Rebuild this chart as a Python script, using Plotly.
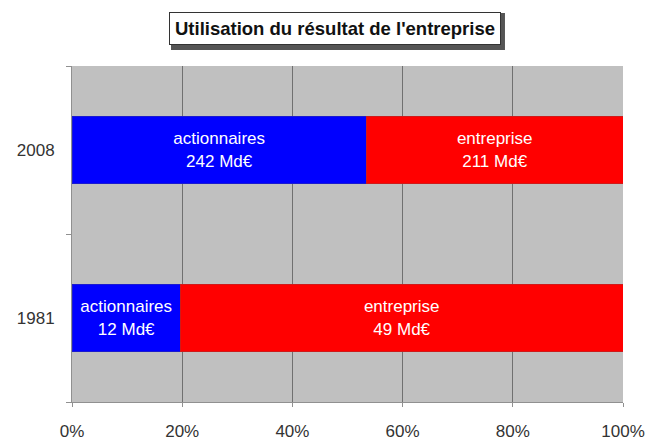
import plotly.graph_objects as go

years = ["1981", "2008"]
actionnaires = [12, 242]
entreprise = [49, 211]
x_ticks = [0, 20, 40, 60, 80, 100]
title_text = "Utilisation du résultat de l'entreprise"

font_family = "Liberation Sans, Arial, sans-serif"

fig = go.Figure()
fig.add_trace(go.Bar(
    y=years, x=actionnaires, orientation="h", name="actionnaires",
    marker=dict(color="#0000ff", line=dict(color="#1a1ad0", width=1)),
    text=[f"actionnaires<br>{v} Md€" for v in actionnaires],
    textposition="inside", insidetextanchor="middle", constraintext="none",
    textfont=dict(color="white", size=17, family=font_family),
    hoverinfo="skip",
))
fig.add_trace(go.Bar(
    y=years, x=entreprise, orientation="h", name="entreprise",
    marker=dict(color="#ff0000", line=dict(color="#d01a1a", width=1)),
    text=[f"entreprise<br>{v} Md€" for v in entreprise],
    textposition="inside", insidetextanchor="middle", constraintext="none",
    textfont=dict(color="white", size=17, family=font_family),
    hoverinfo="skip",
))

# the page body has an 8px margin, so the figure is drawn 8px smaller
fig.update_layout(
    barmode="stack", barnorm="percent", bargap=0.6,
    width=649, height=433,
    margin=dict(l=64, r=34, t=58, b=39),
    paper_bgcolor="white", plot_bgcolor="#c0c0c0",
    showlegend=False,
    font=dict(family=font_family, size=17, color="#333333"),
)
fig.update_xaxes(
    range=[0, 100], tickvals=x_ticks, ticktext=[f"{v}%" for v in x_ticks],
    showgrid=True, gridcolor="#707070", gridwidth=1, zeroline=False,
    showline=True, linecolor="#909090", linewidth=1,
    ticks="outside", ticklen=4, tickcolor="#909090",
    ticklabelstandoff=10, automargin=False,
    tickfont=dict(size=17, color="#333333"),
)
fig.update_yaxes(
    showgrid=False, zeroline=False, tickson="boundaries",
    showline=True, linecolor="#909090", linewidth=1,
    ticks="outside", ticklen=5, tickcolor="#909090",
    ticklabelstandoff=13, automargin=False,
    tickfont=dict(size=17, color="#333333"),
)

# title shadow (decorative) and boxed title
fig.add_shape(
    type="rect", xref="paper", yref="paper",
    x0=0.1797, x1=0.7858, y0=1.0476, y1=1.1577,
    fillcolor="#555555", line=dict(width=0), layer="above",
)
fig.add_annotation(
    text=f"<b>{title_text}</b>", xref="paper", yref="paper",
    x=0.4773, y=1.1116, xanchor="center", yanchor="middle", showarrow=False,
    font=dict(size=18.5, color="#111111", family=font_family),
    bgcolor="white", bordercolor="#333333", borderwidth=1, borderpad=5,
)

fig.write_html("out.html")
